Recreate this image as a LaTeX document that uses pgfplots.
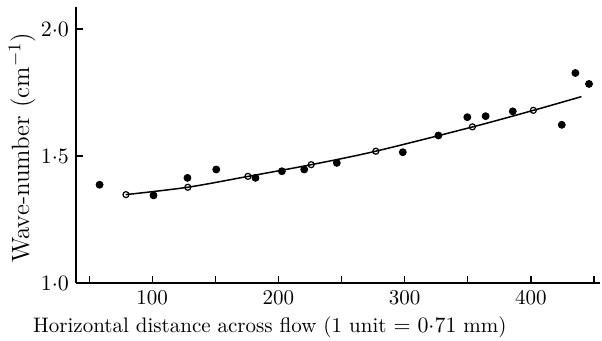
\documentclass[border=0pt]{standalone}
\usepackage{pgfplots}
\pgfplotsset{compat=1.18}
\begin{document}
\begin{tikzpicture}
\useasboundingbox (-38pt,-29pt) rectangle (263pt,141.5pt);
\begin{axis}[
  scale only axis,
  width=262pt, height=138pt,
  xmin=39.6, xmax=454.7,
  ymin=1.0, ymax=2.087,
  axis lines*=left,
  axis line style={line width=0.65pt},
  tick align=inside,
  major tick length=3.5pt,
  tick style={line width=0.6pt, black},
  xtick={50,100,150,200,250,300,350,400,450},
  xticklabels={,100,,200,,300,,400,},
  ytick={1.0,1.5,2.0},
  yticklabels={$1{\cdot}0$,$1{\cdot}5$,$2{\cdot}0$},
  tick label style={font=\fontsize{10.5}{12}\selectfont},
  xlabel={Horizontal distance across flow (1 unit $=$ $0{\cdot}71$ mm)},
  xlabel style={at={(axis description cs:0.37,0)}, anchor=base, yshift=-25pt, font=\fontsize{10.5}{12}\selectfont},
  ylabel={Wave-number (cm$^{-1}$)},
  ylabel style={at={(axis description cs:0,0.49)}, anchor=center, rotate=0, yshift=27pt, font=\fontsize{12.5}{14}\selectfont},
  clip=false,
]
% fitted curve
\addplot[black, line width=0.75pt, smooth, no marks] coordinates {
 (79,1.348) (128,1.377) (176,1.420) (226,1.466) (277,1.519) (354,1.615) (402,1.680) (440,1.734)
};
% filled circles
\addplot[only marks, mark=*, mark size=1.75pt, black] coordinates {
 (58.3,1.387) (101,1.345) (127.9,1.414) (150.7,1.447) (181.8,1.414) (202.7,1.440)
 (220.4,1.447) (246.2,1.473) (298.5,1.515) (326.7,1.581) (349.6,1.653) (364.1,1.657)
 (385.6,1.676) (424.4,1.623) (435.2,1.827) (446.0,1.784)
};
% open circles
\addplot[only marks, mark=o, mark size=1.5pt, black, line width=0.6pt, mark options={fill=white}] coordinates {
 (79.2,1.348) (128.2,1.377) (175.8,1.420) (225.9,1.466) (277.1,1.519) (353.6,1.615) (401.9,1.680)
};
\end{axis}
\end{tikzpicture}
\end{document}
